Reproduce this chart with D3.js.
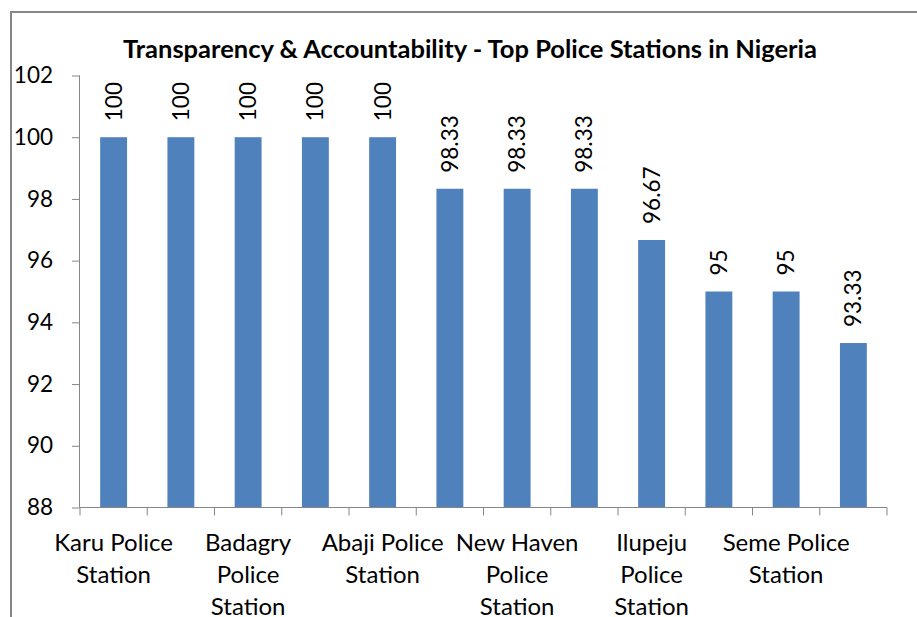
<!DOCTYPE html>
<html><head><meta charset="utf-8">
<script src="https://cdn.jsdelivr.net/npm/d3@7/dist/d3.min.js"></script>
<style>body{margin:0;background:#fff}svg{display:block}</style>
</head><body>
<svg id="c" width="917" height="617"></svg>
<script>
const title = "Transparency & Accountability - Top Police Stations in Nigeria";
const categories = ["Karu Police\nStation","","Badagry\nPolice\nStation","","Abaji Police\nStation","","New Haven\nPolice\nStation","","Ilupeju\nPolice\nStation","","Seme Police\nStation",""];
const values = [100,100,100,100,100,98.33,98.33,98.33,96.67,95,95,93.33];
const valueLabels = ["100","100","100","100","100","98.33","98.33","98.33","96.67","95","95","93.33"];
const yTicks = [88,90,92,94,96,98,100,102];

const FONT = "Lato, 'Open Sans', sans-serif";
const svg = d3.select("#c");
const M = {left:80, right:887, top:75.5, bottom:507.5};

svg.append("rect").attr("x",11).attr("y",12).attr("width",940).attr("height",700)
  .attr("fill","#fff").attr("stroke","#868686").attr("stroke-width",2);

const x = d3.scaleBand().domain(d3.range(categories.length)).range([M.left,M.right]).paddingInner(0.6).paddingOuter(0.3);
const xb = d3.scaleBand().domain(d3.range(categories.length)).range([M.left,M.right]);
const y = d3.scaleLinear().domain([88,102]).range([M.bottom,M.top]);

svg.append("text").attr("x",470).attr("y",58).attr("text-anchor","middle")
  .attr("font-family",FONT).attr("font-weight","bold").attr("font-size",25.5).attr("fill","#000").text(title);

// y axis
const ya = svg.append("g").attr("transform",`translate(${M.left},0)`)
  .call(d3.axisLeft(y).tickValues(yTicks).tickSize(8).tickPadding(19).tickFormat(d3.format("d")));
ya.select(".domain").attr("stroke","#868686").attr("d",`M-0.5,${M.top}V${M.bottom}`);
ya.selectAll(".tick line").attr("stroke","#868686");
ya.selectAll(".tick text").attr("font-family",FONT).attr("font-size",22.5).attr("fill","#000");

// bars
svg.append("g").selectAll("rect").data(values).join("rect")
  .attr("x",(d,i)=>x(i)).attr("width",x.bandwidth())
  .attr("y",d=>y(d)).attr("height",d=>M.bottom-y(d)).attr("fill","#4F81BD");

// x axis
const xa = svg.append("g").attr("transform",`translate(0,${M.bottom})`);
xa.append("line").attr("x1",M.left).attr("x2",M.right).attr("stroke","#868686");
xa.selectAll("line.t").data(d3.range(categories.length+1)).join("line").attr("class","t")
  .attr("x1",i=>i<categories.length?xb(i):M.right).attr("x2",i=>i<categories.length?xb(i):M.right)
  .attr("y1",0).attr("y2",8).attr("stroke","#868686");

// category labels
const cl = svg.append("g");
categories.forEach((c,i)=>{
  if(!c) return;
  const t = cl.append("text").attr("x",xb(i)+xb.bandwidth()/2).attr("y",551).attr("text-anchor","middle")
    .attr("font-family",FONT).attr("font-size",24).attr("fill","#000");
  c.split("\n").forEach((ln,k)=>t.append("tspan").attr("x",xb(i)+xb.bandwidth()/2).attr("y",551+k*32).text(ln));
});

// value labels
svg.append("g").selectAll("text").data(values).join("text")
  .attr("transform",(d,i)=>`translate(${x(i)+x.bandwidth()/2+8},${y(d)-16}) rotate(-90)`)
  .attr("font-family",FONT).attr("font-size",22.5).attr("fill","#000")
  .text((d,i)=>valueLabels[i]);
</script>
</body></html>
